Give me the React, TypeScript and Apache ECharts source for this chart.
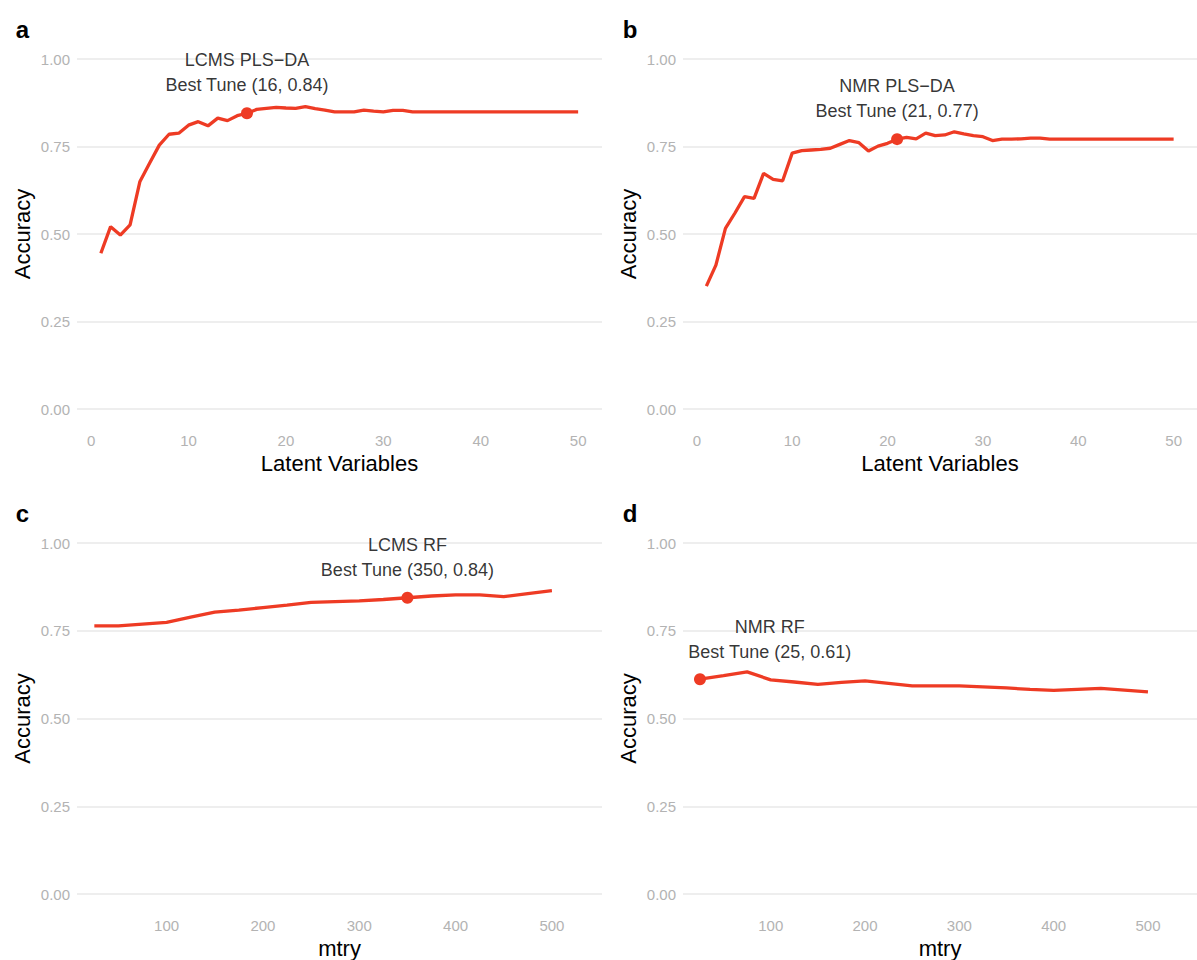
import React, { useEffect, useRef } from "react";
import * as echarts from "echarts";

// ---------- data ----------
const latentVars = [
  1, 2, 3, 4, 5, 6, 7, 8, 9, 10, 11, 12, 13, 14, 15, 16, 17, 18, 19, 20, 21, 22, 23, 24, 25,
  26, 27, 28, 29, 30, 31, 32, 33, 34, 35, 36, 37, 38, 39, 40, 41, 42, 43, 44, 45, 46, 47, 48, 49, 50,
];
const lcmsPlsAcc = [
  0.445, 0.521, 0.497, 0.526, 0.649, 0.702, 0.754, 0.785, 0.788, 0.811,
  0.821, 0.809, 0.831, 0.824, 0.838, 0.845, 0.856, 0.859, 0.862, 0.86,
  0.859, 0.864, 0.858, 0.854, 0.849, 0.849, 0.849, 0.854, 0.851, 0.849,
  0.853, 0.853, 0.849, 0.849, 0.849, 0.849, 0.849, 0.849, 0.849, 0.849,
  0.849, 0.849, 0.849, 0.849, 0.849, 0.849, 0.849, 0.849, 0.849, 0.849,
];
const nmrPlsAcc = [
  0.351, 0.411, 0.516, 0.56, 0.607, 0.602, 0.673, 0.656, 0.652, 0.731,
  0.738, 0.74, 0.742, 0.745, 0.756, 0.767, 0.761, 0.737, 0.751, 0.759,
  0.771, 0.776, 0.772, 0.788, 0.781, 0.783, 0.792, 0.786, 0.781, 0.778,
  0.767, 0.771, 0.771, 0.772, 0.774, 0.774, 0.771, 0.771, 0.771, 0.771,
  0.771, 0.771, 0.771, 0.771, 0.771, 0.771, 0.771, 0.771, 0.771, 0.771,
];
const mtry = [25, 50, 75, 100, 125, 150, 175, 200, 225, 250, 275, 300, 325, 350, 375, 400, 425, 450, 475, 500];
const lcmsRfAcc = [
  0.764, 0.764, 0.769, 0.774, 0.789, 0.803, 0.809, 0.816, 0.823, 0.831,
  0.833, 0.835, 0.839, 0.844, 0.849, 0.852, 0.852, 0.847, 0.856, 0.864,
];
const nmrRfAcc = [
  0.612, 0.622, 0.633, 0.61, 0.604, 0.597, 0.603, 0.607, 0.6, 0.593,
  0.593, 0.593, 0.59, 0.587, 0.583, 0.58, 0.583, 0.586, 0.581, 0.576,
];

const panelTags = ["a", "b", "c", "d"];
const modelNames = ["LCMS PLS\u2212DA", "NMR PLS\u2212DA", "LCMS RF", "NMR RF"];
const bestX = [16, 21, 350, 25];
const bestY = [0.845, 0.771, 0.844, 0.612];
const bestText = ["Best Tune (16, 0.84)", "Best Tune (21, 0.77)", "Best Tune (350, 0.84)", "Best Tune (25, 0.61)"];
const labelX = [16, 21, 350, 99];
const labelY = [0.961, 0.887, 0.959, 0.724];
const xTitles = ["Latent Variables", "Latent Variables", "mtry", "mtry"];
const xTicksLV = [0, 10, 20, 30, 40, 50];
const xTicksMtry = [100, 200, 300, 400, 500];

// ---------- styles ----------
const RED = "#EE3B24";
const FONT = "Liberation Sans, Arial, sans-serif";
const grids = [
  { left: 77, top: 59, width: 525, height: 350 },
  { left: 683, top: 59, width: 525, height: 350 },
  { left: 77, top: 543, width: 525, height: 351 },
  { left: 683, top: 543, width: 525, height: 351 },
];
const xRanges = [
  [-1.45, 52.45],
  [-1.45, 52.45],
  [7, 552],
  [7, 552],
];
const tagPos = [
  [22.5, 29],
  [630, 29],
  [22.5, 513],
  [630, 513],
];

export default function App() {
  const ref = useRef<HTMLDivElement>(null);
  useEffect(() => {
    if (!ref.current) return;
    const chart = echarts.init(ref.current, undefined, { renderer: "svg" });
    const lineData = [
      latentVars.map((x, i) => [x, lcmsPlsAcc[i]]),
      latentVars.map((x, i) => [x, nmrPlsAcc[i]]),
      mtry.map((x, i) => [x, lcmsRfAcc[i]]),
      mtry.map((x, i) => [x, nmrRfAcc[i]]),
    ];
    const series: any[] = [];
    [0, 1, 2, 3].forEach((p) => {
      series.push({
        type: "line",
        xAxisIndex: p,
        yAxisIndex: p,
        data: lineData[p],
        showSymbol: false,
        symbol: "none",
        lineStyle: { color: RED, width: 3.3 },
        silent: true,
        z: 2,
      });
      series.push({
        type: "scatter",
        xAxisIndex: p,
        yAxisIndex: p,
        data: [[bestX[p], bestY[p]]],
        symbolSize: 12,
        itemStyle: { color: RED, opacity: 1 },
        silent: true,
        z: 3,
      });
      series.push({
        type: "scatter",
        xAxisIndex: p,
        yAxisIndex: p,
        data: [[labelX[p], labelY[p]]],
        symbolSize: 1,
        itemStyle: { color: "rgba(0,0,0,0)" },
        silent: true,
        z: 4,
        label: {
          show: true,
          position: "inside",
          formatter: modelNames[p] + "\n" + bestText[p],
          color: "#000",
          textBorderWidth: 0,
          fontSize: 18,
          lineHeight: 25,
          fontFamily: FONT,
          align: "center",
          verticalAlign: "middle",
        },
      });
    });
    const option: any = {
      animation: false,
      backgroundColor: "#fff",
      grid: grids,
      xAxis: [0, 1, 2, 3].map((p) => ({
        type: "value",
        gridIndex: p,
        min: xRanges[p][0],
        max: xRanges[p][1],
        axisLine: { show: false },
        axisTick: { show: false },
        splitLine: { show: false },
        axisLabel: {
          customValues: p < 2 ? xTicksLV : xTicksMtry,
          color: "#B3B3B3",
          fontSize: 15,
          fontFamily: FONT,
          margin: 24,
        },
        name: xTitles[p],
        nameLocation: "middle",
        nameGap: 43,
        nameTextStyle: { color: "#000", fontSize: 22, fontFamily: FONT },
      })),
      yAxis: [0, 1, 2, 3].map((p) => ({
        type: "value",
        gridIndex: p,
        min: 0,
        max: 1,
        interval: 0.25,
        axisLine: { show: false },
        axisTick: { show: false },
        splitLine: { show: true, lineStyle: { color: "#E8E8E8", width: 1.6 } },
        axisLabel: {
          color: "#B3B3B3",
          fontSize: 15,
          fontFamily: FONT,
          margin: 7,
          formatter: (v: number) => v.toFixed(2),
        },
        name: "Accuracy",
        nameLocation: "middle",
        nameRotate: 90,
        nameGap: 44,
        nameTextStyle: { color: "#000", fontSize: 22, fontFamily: FONT },
      })),
      series,
      graphic: panelTags.map((t, i) => ({
        type: "text",
        x: tagPos[i][0],
        y: tagPos[i][1],
        silent: true,
        style: {
          text: t,
          fill: "#000",
          fontSize: 24,
          fontWeight: "bold",
          fontFamily: FONT,
          align: "center",
          verticalAlign: "middle",
        },
      })),
    };
    chart.setOption(option);
    return () => chart.dispose();
  }, []);
  return (
    <div
      ref={ref}
      style={{ position: "absolute", left: 0, top: 0, width: 1197, height: 960, background: "#fff" }}
    />
  );
}
